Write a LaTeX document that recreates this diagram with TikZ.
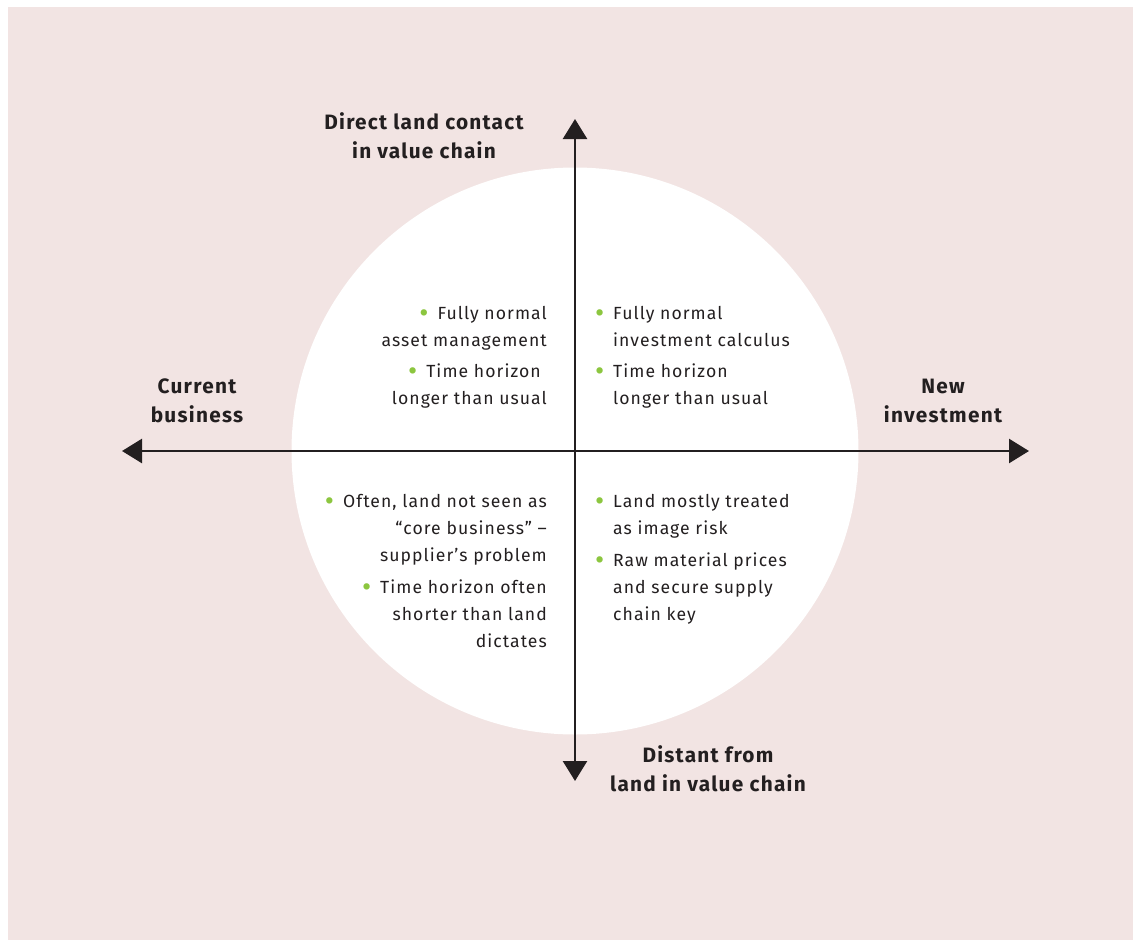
\documentclass[tikz,border=0pt]{standalone}
\usepackage{fontspec}
\setmainfont{Fira Sans}[LetterSpace=6]
\usetikzlibrary{arrows.meta}
\definecolor{bgpink}{HTML}{F2E4E3}
\definecolor{ink}{HTML}{231F20}
\definecolor{dotgreen}{HTML}{8CC63F}
% green bullet before a right-aligned line, and hanging bullet for a left-aligned one
\newcommand\gdot{\textcolor{dotgreen}{\raisebox{-3.2pt}{\scalebox{1.6}{\textbullet}}}}
\newcommand\rbul{\gdot\hspace{9pt}}
\newcommand\lbul{\llap{\gdot\hspace{9pt}}}
\begin{document}
\begin{tikzpicture}[x=1pt,y=-1pt,
  axisline/.style={draw=ink, line width=2.6pt,
    {Triangle[length=20pt,width=24pt]}-{Triangle[length=20pt,width=24pt]}},
  body/.style={inner sep=0pt, text=ink, font=\fontsize{17.6}{27}\selectfont},
  lineR/.style={body, anchor=base east},
  lineL/.style={body, anchor=base west},
  axislabel/.style={inner sep=0pt, anchor=base, text=ink,
    font=\fontsize{20.8}{29}\selectfont\bfseries}]
\useasboundingbox (0,0) rectangle (1133,940);
\fill[bgpink] (8,7) rectangle (1133,940);
\fill[white] (575,451) circle[radius=283.5pt];

% axes
\coordinate (W) at (122,451);
\coordinate (E) at (1029,451);
\coordinate (N) at (575,119);
\coordinate (S) at (575,781);
\draw[axisline] (W) -- (E);
\draw[axisline] (S) -- (N);

% axis labels
\node[axislabel] (n1) at (424,129) {Direct land contact};
\node[axislabel] (n2) at (424,158) {in value chain};
\node[axislabel] (w1) at (197,393) {Current};
\node[axislabel] (w2) at (197,422) {business};
\node[axislabel] (e1) at (943,393) {New};
\node[axislabel] (e2) at (943,422) {investment};
\node[axislabel] (s1) at (708,762) {Distant from};
\node[axislabel] (s2) at (708,791) {land in value chain};

% upper left quadrant
\node[lineR] (tl1) at (547,319) {\rbul Fully normal};
\node[lineR] (tl2) at (547,346) {asset management};
\node[lineR] (tl3) at (541,377) {\rbul Time horizon};
\node[lineR] (tl4) at (547,404) {longer than usual};

% upper right quadrant
\node[lineL] (tr1) at (613,319) {\lbul Fully normal};
\node[lineL] (tr2) at (613,346) {investment calculus};
\node[lineL] (tr3) at (613,377) {\lbul Time horizon};
\node[lineL] (tr4) at (613,404) {longer than usual};

% lower left quadrant
\node[lineR] (bl1) at (547,507) {\rbul Often, land not seen as};
\node[lineR] (bl2) at (547,534) {“core business” –};
\node[lineR] (bl3) at (547,561) {supplier’s problem};
\node[lineR] (bl4) at (547,593) {\rbul Time horizon often};
\node[lineR] (bl5) at (547,620) {shorter than land};
\node[lineR] (bl6) at (547,647) {dictates};

% lower right quadrant
\node[lineL] (br1) at (613,507) {\lbul Land mostly treated};
\node[lineL] (br2) at (613,534) {as image risk};
\node[lineL] (br3) at (613,566) {\lbul Raw material prices};
\node[lineL] (br4) at (613,593) {and secure supply};
\node[lineL] (br5) at (613,620) {chain key};
\end{tikzpicture}
\end{document}
